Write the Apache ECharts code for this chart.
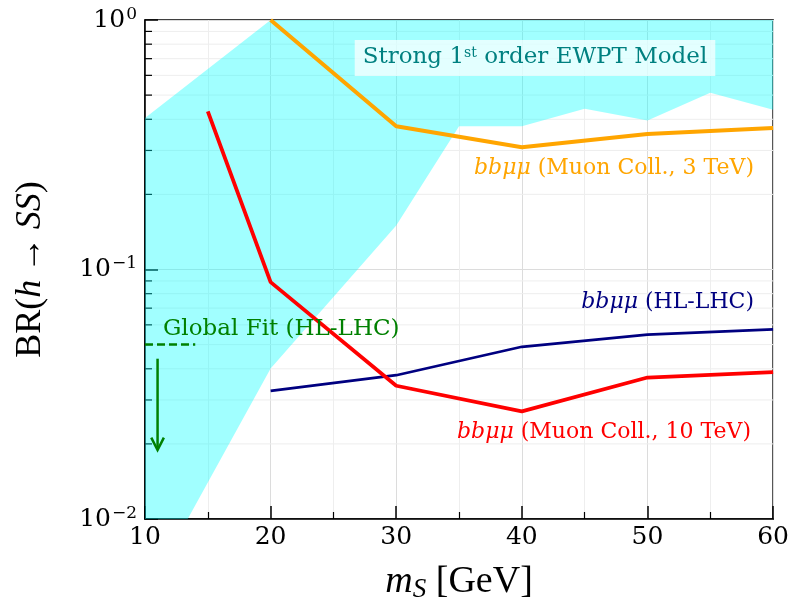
<!DOCTYPE html>
<html><head><meta charset="utf-8">
<script src="https://cdn.jsdelivr.net/npm/echarts@6/dist/echarts.min.js"></script>
<style>html,body{margin:0;padding:0;background:#fff}#c{width:792px;height:608px}</style>
</head><body><div id="c"></div>
<script>
// ---- data ----
const massPoints = [20, 30, 40, 50, 60];
const muon3TeV = [1.0, 0.375, 0.309, 0.349, 0.369];
const muon10TeVMass = [15, 20, 30, 40, 50, 60];
const muon10TeV = [0.43, 0.089, 0.0342, 0.0270, 0.0369, 0.0388];
const hllhc = [0.0326, 0.0377, 0.0490, 0.0548, 0.0575];
const globalFitMass = [10, 14];
const globalFitBR = [0.05, 0.05];
const arrowMass = 11;
const arrowBR = [0.0439, 0.0189];
const ewptMass = [10, 20, 60, 60, 55, 50, 45, 40, 35, 30, 20, 13.4, 10];
const ewptBR = [0.405, 1.0, 1.0, 0.437, 0.511, 0.396, 0.441, 0.375, 0.375, 0.15, 0.0401, 0.01, 0.01];
const xTickLabels = [10, 20, 30, 40, 50, 60];
const yMinorValues = [];
[-2, -1].forEach(k => { for (let m = 2; m <= 9; m++) yMinorValues.push(m * Math.pow(10, k)); });

const SERIF = "'DejaVu Serif', serif";
const TIMES = "'Liberation Serif', serif";

const chart = echarts.init(document.getElementById('c'), null, {renderer: 'canvas'});

function supLabel(v) {
  const e = Math.round(Math.log10(v));
  return '{b|10}{s|' + (e < 0 ? '\u2212' + (-e) : e) + '}';
}

const option = {
  animation: false,
  backgroundColor: '#fff',
  grid: {left: 145, right: 18, top: 20, bottom: 87, show: true, borderColor: '#000', borderWidth: 1.5, backgroundColor: 'transparent'},
  xAxis: {
    type: 'value', min: 10, max: 60, interval: 10,
    axisLine: {lineStyle: {color: '#000', width: 1.5}},
    axisTick: {inside: true, length: 13, lineStyle: {color: '#000', width: 1.5}},
    minorTick: {show: true, splitNumber: 2, length: 7, lineStyle: {color: '#000', width: 1.2}},
    splitLine: {show: true, lineStyle: {color: '#dcdcdc', width: 1}},
    minorSplitLine: {show: true, lineStyle: {color: '#eeeeee', width: 1}},
    axisLabel: {margin: 6, color: '#000', fontFamily: SERIF, fontSize: 25,
      formatter: v => xTickLabels.includes(v) ? String(v) : ''},
    name: '{i|m}{sub|S} [GeV]', nameLocation: 'middle', nameGap: 42,
    nameTextStyle: {color: '#000', fontFamily: TIMES, fontSize: 38,
      rich: {i: {fontFamily: TIMES, fontStyle: 'italic', fontSize: 38},
             sub: {fontFamily: TIMES, fontStyle: 'italic', fontSize: 27, padding: [15, 0, 0, 0]}}}
  },
  yAxis: {
    type: 'log', logBase: 10, min: 0.01, max: 1,
    axisLine: {lineStyle: {color: '#000', width: 1.5}},
    axisTick: {inside: true, length: 13, lineStyle: {color: '#000', width: 1.5}},
    minorTick: {show: false},
    splitLine: {show: true, lineStyle: {color: '#dcdcdc', width: 1}},
    axisLabel: {margin: 8, color: '#000', formatter: supLabel,
      rich: {b: {fontFamily: SERIF, fontSize: 25, color: '#000'},
             s: {fontFamily: SERIF, fontSize: 17, color: '#000', padding: [0, 0, 11, 1]}}},
    name: 'BR({i|h}\u2009\u2192\u2009{i|SS})', nameLocation: 'middle', nameGap: 96, nameRotate: 90,
    nameTextStyle: {color: '#000', fontFamily: TIMES, fontSize: 36,
      rich: {i: {fontFamily: TIMES, fontStyle: 'italic', fontSize: 36}}}
  },
  series: [
    { // minor log grid + minor ticks
      type: 'custom', z: 0, silent: true, clip: false, data: [[35, 0.1]],
      renderItem: (params, api) => {
        const children = [];
        yMinorValues.forEach(v => {
          const p0 = api.coord([10, v]), p1 = api.coord([60, v]);
          children.push({type: 'line', shape: {x1: p0[0], y1: p0[1], x2: p1[0], y2: p1[1]},
            style: {stroke: '#eeeeee', lineWidth: 1}});
          children.push({type: 'line', shape: {x1: p0[0], y1: p0[1], x2: p0[0] + 7, y2: p0[1]},
            style: {stroke: '#000', lineWidth: 1.2}});
        });
        return {type: 'group', children};
      }
    },
    { // EWPT region
      type: 'custom', z: 1, silent: true, clip: true, data: [[35, 0.1]],
      renderItem: (params, api) => ({
        type: 'polygon',
        shape: {points: ewptMass.map((m, i) => api.coord([m, ewptBR[i]]))},
        style: {fill: 'rgba(0,255,255,0.37)'}
      })
    },
    {type: 'line', z: 3, name: 'orange', data: massPoints.map((m, i) => [m, muon3TeV[i]]),
      symbol: 'none', lineStyle: {color: '#FFA500', width: 4}, clip: true},
    {type: 'line', z: 3, name: 'navy', data: massPoints.map((m, i) => [m, hllhc[i]]),
      symbol: 'none', lineStyle: {color: '#000080', width: 2.7}},
    {type: 'line', z: 4, name: 'red', data: muon10TeVMass.map((m, i) => [m, muon10TeV[i]]),
      symbol: 'none', lineStyle: {color: '#FF0000', width: 3.8}},
    {type: 'line', z: 3, name: 'gf', data: globalFitMass.map((m, i) => [m, globalFitBR[i]]),
      symbol: 'none', lineStyle: {color: '#008000', width: 2.5, type: [8, 4]}},
    { // arrow
      type: 'custom', z: 3, silent: true, clip: false, data: [[arrowMass, arrowBR[0]]],
      renderItem: (params, api) => {
        const a = api.coord([arrowMass, arrowBR[0]]), b = api.coord([arrowMass, arrowBR[1]]);
        const st = {stroke: '#008000', lineWidth: 2.5, fill: null};
        return {type: 'group', children: [
          {type: 'line', shape: {x1: a[0], y1: a[1], x2: b[0], y2: b[1] - 1}, style: st},
          {type: 'polyline', shape: {points: [[b[0] - 6.3, b[1] - 12.4], [b[0], b[1]], [b[0] + 6.3, b[1] - 12.4]]}, style: st}
        ]};
      }
    }
  ],
  graphic: [
    {type: 'text', x: 535, y: 58, z: 100, style: {
      text: 'Strong 1{s|st} order EWPT Model', align: 'center', verticalAlign: 'middle',
      fill: '#008080', font: "23px 'DejaVu Serif'", backgroundColor: 'rgba(255,255,255,0.7)', padding: [6, 8, 7, 8],
      rich: {s: {fontFamily: 'DejaVu Serif', fontSize: 14, fill: '#008080', padding: [0, 0, 9, 0]}}}},
    {type: 'text', x: 754, y: 168, z: 100, style: {
      text: '{i|bbμμ} (Muon Coll., 3 TeV)', align: 'right', verticalAlign: 'middle',
      fill: '#FFA500', font: "22px 'DejaVu Serif'",
      rich: {i: {fontFamily: 'DejaVu Serif', fontStyle: 'italic', fontSize: 22, fill: '#FFA500'}}}},
    {type: 'text', x: 754, y: 302, z: 100, style: {
      text: '{i|bbμμ} (HL-LHC)', align: 'right', verticalAlign: 'middle',
      fill: '#000080', font: "22px 'DejaVu Serif'",
      rich: {i: {fontFamily: 'DejaVu Serif', fontStyle: 'italic', fontSize: 22, fill: '#000080'}}}},
    {type: 'text', x: 751, y: 432, z: 100, style: {
      text: '{i|bbμμ} (Muon Coll., 10 TeV)', align: 'right', verticalAlign: 'middle',
      fill: '#FF0000', font: "22px 'DejaVu Serif'",
      rich: {i: {fontFamily: 'DejaVu Serif', fontStyle: 'italic', fontSize: 22, fill: '#FF0000'}}}},
    {type: 'text', x: 163, y: 329, z: 100, style: {
      text: 'Global Fit (HL-LHC)', align: 'left', verticalAlign: 'middle',
      fill: '#008000', font: "23px 'DejaVu Serif'"}}
  ]
};
chart.setOption(option);
</script></body></html>
